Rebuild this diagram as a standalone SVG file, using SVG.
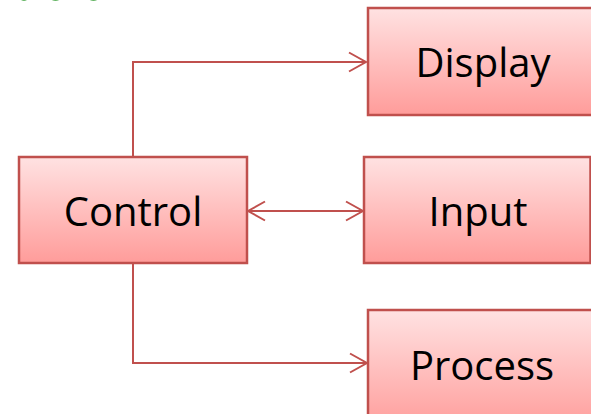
<svg xmlns="http://www.w3.org/2000/svg" width="591" height="414" viewBox="0 0 591 414">
  <style>
    .box { stroke: #c0504d; stroke-width: 2.5; fill: url(#g); }
    .lbl { font-family: "Open Sans", "Liberation Sans", sans-serif; font-size: 40px; fill: #000; text-anchor: middle; }
    .conn { fill: none; stroke: #c0504d; stroke-width: 2; }
    .deco { fill: none; stroke: #2e9a2e; stroke-width: 2.5; }
  </style>
  <defs>
    <linearGradient id="g" x1="0" y1="0" x2="0" y2="1">
      <stop offset="0" stop-color="#ffe2e2"/>
      <stop offset="1" stop-color="#ff9c9a"/>
    </linearGradient>
    <marker id="arr" markerUnits="userSpaceOnUse" markerWidth="22" markerHeight="24" viewBox="-20 -12 22 24" refX="0" refY="0" orient="auto-start-reverse">
      <path d="M-17,-9.5 L0,0 L-17,9.5" fill="none" stroke="#c0504d" stroke-width="2"/>
    </marker>
  </defs>
  <g id="decoration">
    <ellipse class="deco" cx="24" cy="-5.5" rx="5" ry="5"/>
    <ellipse class="deco" cx="55.5" cy="-5.5" rx="6.5" ry="5"/>
    <ellipse class="deco" cx="93.5" cy="-5.5" rx="6.5" ry="5"/>
  </g>
  <g id="connectors">
    <path class="conn" d="M133,157 V62 H366" marker-end="url(#arr)"/>
    <path class="conn" d="M133,263 V363 H367" marker-end="url(#arr)"/>
    <path class="conn" d="M248,211 H363" marker-start="url(#arr)" marker-end="url(#arr)"/>
  </g>
  <g id="control">
    <rect class="box" x="19" y="157" width="228" height="106"/>
    <text class="lbl" x="133" y="226">Control</text>
  </g>
  <g id="display">
    <rect class="box" x="368" y="8" width="240" height="107"/>
    <text class="lbl" x="483" y="77">Display</text>
  </g>
  <g id="input">
    <rect class="box" x="364" y="157" width="226.5" height="106"/>
    <text class="lbl" x="478" y="226">Input</text>
  </g>
  <g id="process">
    <rect class="box" x="368" y="310" width="240" height="120"/>
    <text class="lbl" x="482" y="380">Process</text>
  </g>
</svg>
